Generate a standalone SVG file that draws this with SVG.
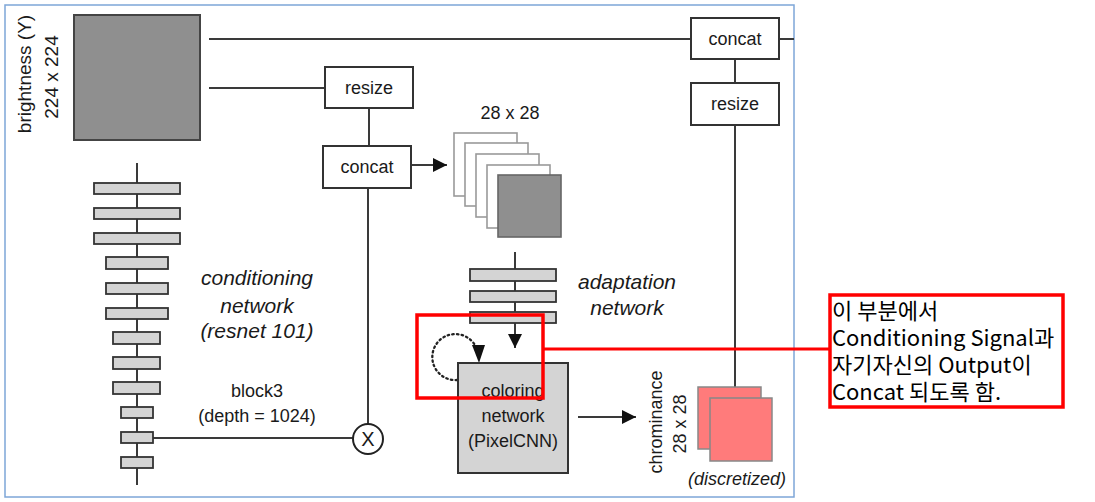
<svg xmlns="http://www.w3.org/2000/svg" width="1095" height="502" viewBox="0 0 1095 502">
<style>
.t{font-family:"Liberation Sans",Arial,sans-serif;font-size:18px;fill:#1a1a1a;text-anchor:middle}
.it{font-family:"Liberation Sans",Arial,sans-serif;font-size:21px;font-style:italic;fill:#1a1a1a;text-anchor:middle}
.ko{font-family:"Noto Sans CJK KR","Noto Sans",sans-serif;font-size:22px;fill:#000}
.box{fill:#fff;stroke:#333;stroke-width:2}
.ln{stroke:#3a3a3a;stroke-width:2;fill:none}
.bar{fill:#d4d4d4;stroke:#333;stroke-width:1.8}
.fr{fill:#fff;stroke:#9a9a9a;stroke-width:1.6}
.red{fill:none;stroke:#ff0000;stroke-width:3.5}
</style>
<defs>
<marker id="ah" viewBox="0 0 10 10" refX="10" refY="5" markerWidth="14" markerHeight="14" markerUnits="userSpaceOnUse" orient="auto">
<path d="M0,0 L10,5 L0,10 z" fill="#111"/>
</marker>
</defs>
<rect x="0" y="0" width="1095" height="502" fill="#fff"/>
<rect x="5" y="5" width="789" height="492" fill="#fff" stroke="#7ea6d8" stroke-width="1.5"/>

<g id="connectors">
<line class="ln" x1="209" y1="39" x2="691" y2="39"/>
<line class="ln" x1="779" y1="39" x2="794" y2="39"/>
<line class="ln" x1="209" y1="88" x2="325" y2="88"/>
<line class="ln" x1="369" y1="108" x2="369" y2="146"/>
<line class="ln" x1="368" y1="188" x2="368" y2="424"/>
<line class="ln" x1="411" y1="165" x2="447" y2="165" marker-end="url(#ah)"/>
<line class="ln" x1="153" y1="438" x2="353" y2="438"/>
<line class="ln" x1="735" y1="59" x2="735" y2="83"/>
<line class="ln" x1="735" y1="125" x2="735" y2="387"/>
<line class="ln" x1="515" y1="323" x2="515" y2="348" marker-end="url(#ah)"/>
<line class="ln" x1="578" y1="417" x2="636" y2="417" marker-end="url(#ah)"/>
<path d="M457,380 A23,23 0 1 1 476,347" fill="none" stroke="#222" stroke-width="2.3" stroke-dasharray="1.5 3.2" stroke-linecap="round"/>
<path d="M472,345 L485,345 L479,363 z" fill="#111"/>
</g>

<g id="brightness">
<rect x="74" y="15" width="126" height="125" fill="#8f8f8f" stroke="#444" stroke-width="2"/>
<text class="t" transform="translate(31,74) rotate(-90)" style="font-size:19px">brightness (Y)</text>
<text class="t" transform="translate(58,77) rotate(-90)" style="font-size:19px">224 x 224</text>
</g>

<g id="resize1">
<rect class="box" x="325" y="67" width="88" height="41"/>
<text class="t" x="369" y="94">resize</text>
</g>

<g id="concat1">
<rect class="box" x="323" y="146" width="88" height="42"/>
<text class="t" x="367" y="173">concat</text>
</g>

<g id="concat2">
<rect class="box" x="691" y="18" width="88" height="41"/>
<text class="t" x="735" y="45">concat</text>
</g>

<g id="resize2">
<rect class="box" x="691" y="83" width="88" height="42"/>
<text class="t" x="735" y="110">resize</text>
</g>

<g id="conditioning-network">
<line class="ln" x1="137" y1="163" x2="137" y2="485"/>
<rect class="bar" x="94" y="183" width="86" height="11"/>
<rect class="bar" x="94" y="208" width="86" height="11"/>
<rect class="bar" x="94" y="233" width="86" height="11"/>
<rect class="bar" x="106" y="257" width="62" height="12"/>
<rect class="bar" x="106" y="283" width="62" height="11"/>
<rect class="bar" x="106" y="308" width="62" height="11"/>
<rect class="bar" x="113" y="332" width="47" height="12"/>
<rect class="bar" x="113" y="357" width="47" height="12"/>
<rect class="bar" x="113" y="382" width="47" height="12"/>
<rect class="bar" x="121" y="407" width="32" height="11"/>
<rect class="bar" x="121" y="432" width="32" height="11"/>
<rect class="bar" x="121" y="457" width="32" height="11"/>
<text class="it" x="257" y="285">conditioning</text>
<text class="it" x="257" y="313">network</text>
<text class="it" x="257" y="338">(resnet 101)</text>
<text class="t" x="257" y="397">block3</text>
<text class="t" x="257" y="422">(depth = 1024)</text>
</g>

<g id="multiply">
<circle cx="368" cy="439" r="15" fill="#fff" stroke="#222" stroke-width="2"/>
<text class="t" x="368" y="446" style="font-size:20px">X</text>
</g>

<g id="features">
<text class="t" x="510" y="119">28 x 28</text>
<rect class="fr" x="454" y="133" width="63" height="63"/>
<rect class="fr" x="465" y="143" width="63" height="63"/>
<rect class="fr" x="476" y="154" width="63" height="63"/>
<rect class="fr" x="487" y="165" width="63" height="63"/>
<rect x="498" y="175" width="63" height="62" fill="#8f8f8f" stroke="#666" stroke-width="1.6"/>
</g>

<g id="adaptation-network">
<line class="ln" x1="515" y1="252" x2="515" y2="323"/>
<rect class="bar" x="470" y="269" width="86" height="12"/>
<rect class="bar" x="470" y="291" width="86" height="11"/>
<rect class="bar" x="470" y="312" width="86" height="11"/>
<text class="it" x="627" y="289">adaptation</text>
<text class="it" x="627" y="315">network</text>
</g>

<g id="coloring-network">
<rect x="458" y="363" width="110" height="110" fill="#d4d4d4" stroke="#333" stroke-width="2"/>
<text class="t" x="513" y="397">coloring</text>
<text class="t" x="513" y="422">network</text>
<text class="t" x="513" y="447">(PixelCNN)</text>
</g>

<g id="chrominance">
<text class="t" transform="translate(662,422) rotate(-90)">chrominance</text>
<text class="t" transform="translate(686,424) rotate(-90)">28 x 28</text>
<rect x="698" y="387" width="63" height="62" fill="#ff7b7b" stroke="#888" stroke-width="1.5"/>
<rect x="710" y="398" width="62" height="63" fill="#ff7b7b" stroke="#888" stroke-width="1.5"/>
<text class="t" x="737" y="485" style="font-style:italic">(discretized)</text>
</g>

<g id="annotation">
<rect class="red" x="417" y="315" width="126" height="83"/>
<line x1="543" y1="349" x2="830" y2="349" stroke="#ff0000" stroke-width="3"/>
<rect class="red" x="830" y="295" width="233" height="112" style="fill:#fff"/>
<text class="ko" x="832" y="319">이 부분에서</text>
<text class="ko" x="832" y="346">Conditioning Signal과</text>
<text class="ko" x="832" y="373">자기자신의 Output이</text>
<text class="ko" x="832" y="400">Concat 되도록 함.</text>
</g>
</svg>
